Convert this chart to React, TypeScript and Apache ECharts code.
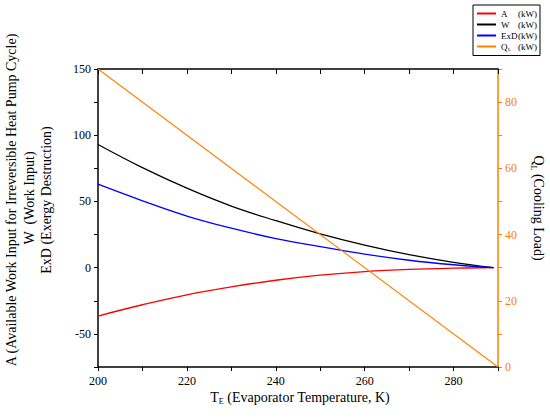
import React, { useEffect, useRef } from "react";
import * as echarts from "echarts";

const temps = [200, 210, 220, 230, 240, 250, 260, 270, 280, 289];
const availableWork = [-36.5, -28, -20.5, -14.5, -9.5, -5.7, -3, -1.3, -0.4, 0];
const workInput = [93, 75.5, 60, 46.5, 35.5, 25.5, 17, 9.8, 4, 0];
const exergyDestruction = [63, 50.5, 39, 29.8, 22, 15.9, 10.2, 5.6, 2.2, 0];
const coolingTemps = [200, 290];
const coolingLoad = [90, 0];

const FONT = "'Liberation Serif', 'Times New Roman', serif";
const ORANGE = "#ff8000";

function pairs(xs: number[], ys: number[]) {
  return xs.map((x, i) => [x, ys[i]]);
}

export default function App() {
  const ref = useRef<HTMLDivElement>(null);
  useEffect(() => {
    if (!ref.current) return;
    document.body.style.margin = "0";
    const chart = echarts.init(ref.current, undefined, { renderer: "svg" });
    const subRich = {
      a: { fontSize: 14, fontFamily: FONT, color: "#000" },
      s: { fontSize: 8, fontFamily: FONT, color: "#000", padding: [9, 0, 0, 0] },
    };
    const tickFont = { fontSize: 12, fontFamily: FONT };
    chart.setOption({
      animation: false,
      textStyle: { fontFamily: FONT },
      grid: { left: 98, right: 52, top: 69, bottom: 52, containLabel: false },
      legend: {
        orient: "vertical",
        left: 473,
        top: 5,
        padding: [4, 3, 4, 4],
        itemGap: 2,
        itemWidth: 19,
        itemHeight: 2,
        icon: "rect",
        borderColor: "#000",
        borderWidth: 1,
        backgroundColor: "#fff",
        data: ["A", "W", "ExD", "QL"],
        textStyle: {
          fontSize: 9,
          fontFamily: FONT,
          color: "#000",
          rich: {
            n: { width: 17, fontSize: 9, fontFamily: FONT },
            q: { width: 7, fontSize: 9, fontFamily: FONT },
            s: { width: 10, fontSize: 5, fontFamily: FONT, padding: [5, 0, 0, 0] },
            u: { fontSize: 9, fontFamily: FONT },
          },
        },
        formatter: (name: string) =>
          name === "QL" ? "{q|Q}{s|L}{u|(kW)}" : `{n|${name}}{u|(kW)}`,
      },
      xAxis: [
        {
          type: "value",
          position: "bottom",
          min: 200,
          max: 290,
          interval: 10,
          axisLine: { onZero: false, lineStyle: { color: "#000", width: 1.5 } },
          axisTick: { show: true, inside: false, length: 4, lineStyle: { color: "#000" } },
          axisLabel: {
            color: "#000",
            ...tickFont,
            margin: 8,
            formatter: (v: number) => (v % 20 === 0 ? String(v) : ""),
          },
          splitLine: { show: false },
        },
        {
          type: "value",
          position: "top",
          min: 200,
          max: 290,
          interval: 10,
          axisLine: { onZero: false, lineStyle: { color: "#000", width: 1.5 } },
          axisTick: { show: true, inside: true, length: 5, lineStyle: { color: "#000" } },
          axisLabel: { show: false },
          splitLine: { show: false },
        },
      ],
      yAxis: [
        {
          type: "value",
          position: "left",
          min: -75,
          max: 150,
          interval: 25,
          axisLine: { show: true, onZero: false, lineStyle: { color: "#000", width: 1.5 } },
          axisTick: { show: true, inside: false, length: 4, lineStyle: { color: "#000" } },
          axisLabel: {
            color: "#000",
            ...tickFont,
            margin: 7,
            formatter: (v: number) => (v % 50 === 0 ? String(v) : ""),
          },
          splitLine: { show: false },
        },
        {
          type: "value",
          position: "right",
          min: 0,
          max: 90,
          interval: 10,
          axisLine: { show: true, onZero: false, lineStyle: { color: ORANGE, width: 1.5 } },
          axisTick: { show: true, inside: false, length: 4, lineStyle: { color: ORANGE } },
          axisLabel: {
            color: ORANGE,
            ...tickFont,
            margin: 7,
            formatter: (v: number) => (v % 20 === 0 ? String(v) : ""),
          },
          splitLine: { show: false },
        },
      ],
      series: [
        {
          name: "A",
          type: "line",
          data: pairs(temps, availableWork),
          smooth: 0.4,
          showSymbol: false,
          lineStyle: { color: "#ff0000", width: 1.3 },
          itemStyle: { color: "#ff0000" },
        },
        {
          name: "W",
          type: "line",
          data: pairs(temps, workInput),
          smooth: 0.4,
          showSymbol: false,
          lineStyle: { color: "#000000", width: 1.3 },
          itemStyle: { color: "#000000" },
        },
        {
          name: "ExD",
          type: "line",
          data: pairs(temps, exergyDestruction),
          smooth: 0.4,
          showSymbol: false,
          lineStyle: { color: "#0000ff", width: 1.3 },
          itemStyle: { color: "#0000ff" },
        },
        {
          name: "QL",
          type: "line",
          yAxisIndex: 1,
          data: pairs(coolingTemps, coolingLoad),
          showSymbol: false,
          lineStyle: { color: ORANGE, width: 1.1 },
          itemStyle: { color: ORANGE },
        },
      ],
      graphic: [
        {
          type: "text",
          x: 11,
          y: 200,
          rotation: Math.PI / 2,
          style: {
            text: "A (Available Work Input for Irreversible Heat Pump Cycle)",
            fontSize: 14,
            fontFamily: FONT,
            fill: "#000",
            align: "center",
            verticalAlign: "middle",
          },
        },
        {
          type: "text",
          x: 29,
          y: 198,
          rotation: Math.PI / 2,
          style: {
            text: "W  (Work Input)",
            fontSize: 14,
            fontFamily: FONT,
            fill: "#000",
            align: "center",
            verticalAlign: "middle",
          },
        },
        {
          type: "text",
          x: 46,
          y: 200,
          rotation: Math.PI / 2,
          style: {
            text: "ExD (Exergy Destruction)",
            fontSize: 14,
            fontFamily: FONT,
            fill: "#000",
            align: "center",
            verticalAlign: "middle",
          },
        },
        {
          type: "text",
          x: 538,
          y: 208,
          rotation: -Math.PI / 2,
          style: {
            text: "{a|Q}{s|L}{a| (Cooling Load)}",
            rich: subRich,
            fontSize: 14,
            fontFamily: FONT,
            fill: "#000",
            align: "center",
            verticalAlign: "middle",
          },
        },
        {
          type: "text",
          x: 300,
          y: 397,
          style: {
            text: "{a|T}{s|E}{a| (Evaporator Temperature, K)}",
            rich: subRich,
            fontSize: 14,
            fontFamily: FONT,
            fill: "#000",
            align: "center",
            verticalAlign: "middle",
          },
        },
      ],
    });
    return () => chart.dispose();
  }, []);
  return (
    <div
      ref={ref}
      style={{ position: "absolute", left: 0, top: 0, width: 550, height: 419 }}
    />
  );
}
